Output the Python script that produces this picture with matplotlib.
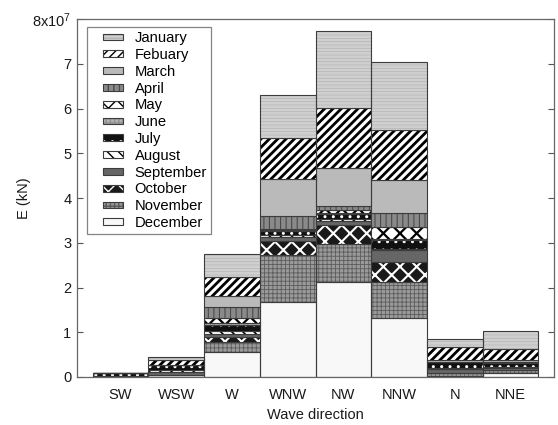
import matplotlib
matplotlib.use("Agg")
import matplotlib.pyplot as plt
import matplotlib.patches as mpatches
from matplotlib.legend_handler import HandlerTuple, HandlerPatch
import numpy as np

plt.rcParams["font.family"] = ["Liberation Sans", "DejaVu Sans"]
plt.rcParams["mathtext.fontset"] = "custom"
plt.rcParams["mathtext.rm"] = "Liberation Sans"
plt.rcParams["mathtext.it"] = "Liberation Sans"
plt.rcParams["font.size"] = 10

directions = ["SW", "WSW", "W", "WNW", "NW", "NNW", "N", "NNE"]
months = ["January", "Febuary", "March", "April", "May", "June", "July",
          "August", "September", "October", "November", "December"]

# Monthly wave energy per direction, in units of 1e7 kN
january   = [0.00, 0.06, 0.52, 0.97, 1.72, 1.52, 0.185, 0.41]
february  = [0.00, 0.12, 0.43, 0.91, 1.33, 1.12, 0.285, 0.24]
march     = [0.00, 0.00, 0.23, 0.82, 0.85, 0.73, 0.05, 0.04]
april     = [0.00, 0.00, 0.26, 0.29, 0.10, 0.32, 0.00, 0.00]
may       = [0.00, 0.00, 0.10, 0.02, 0.06, 0.26, 0.00, 0.01]
june      = [0.00, 0.00, 0.04, 0.02, 0.03, 0.02, 0.00, 0.01]
july      = [0.05, 0.12, 0.14, 0.10, 0.11, 0.22, 0.14, 0.10]
august    = [0.00, 0.03, 0.06, 0.05, 0.04, 0.02, 0.02, 0.02]
september = [0.03, 0.07, 0.08, 0.08, 0.10, 0.26, 0.10, 0.04]
october   = [0.00, 0.00, 0.10, 0.32, 0.41, 0.45, 0.00, 0.00]
november  = [0.00, 0.01, 0.23, 1.04, 0.86, 0.80, 0.05, 0.08]
december  = [0.00, 0.04, 0.56, 1.68, 2.12, 1.32, 0.03, 0.08]

series = [january, february, march, april, may, june, july, august,
          september, october, november, december]
scale = 1e7

# fill colour, hatch, hatch colour, hatch line width
styles = [
    ("#d0d0d0", "-----", "#b4b4b4", 0.5),   # January
    ("white",   "////",  "black",   2.0),   # Febuary
    ("#bababa", "",      "#bababa", 0.5),   # March
    ("#8a8a8a", "|||",   "#4a4a4a", 0.8),   # April
    ("white",   "xx",    "black",   1.6),   # May
    ("#b2b2b2", "++++",  "#909090", 0.5),   # June
    ("#111111", "..",    "white",   1.0),   # July
    ("white",   "\\\\\\", "black",  1.2),   # August
    ("#666666", "",      "#666666", 0.5),   # September
    ("#1a1a1a", "xx",    "white",   1.5),   # October
    ("#9a9a9a", "++++",  "#5c5c5c", 0.6),   # November
    ("#f8f8f8", "",      "#f8f8f8", 0.5),   # December
]
outline = "#3c3c3c"


def set_hlw(artist, lw):
    try:
        artist.set_hatch_linewidth(lw)
    except AttributeError:
        pass


def icon_rect(legend, orig_handle, xdescent, ydescent, width, height,
              fontsize):
    # small swatch pushed to the right end of the handle box
    w = width * 0.64
    h = height * 0.62
    return mpatches.Rectangle((-xdescent + width - w,
                               -ydescent + (height - h) / 2), w, h)


fig = plt.figure(figsize=(5.58, 4.25), dpi=100)
ax = fig.add_axes([77 / 558, 48 / 425, 477 / 558, 358 / 425])

x = np.arange(1, len(directions) + 1)
bottom = np.zeros(len(directions))
handles = {}
# stack from December at the bottom up to January on top
for i in range(len(months) - 1, -1, -1):
    vals = np.array(series[i]) * scale
    fc, hatch, hc, hlw = styles[i]
    bars = ax.bar(x, vals, bottom=bottom, width=1.0, color=fc,
                  edgecolor=hc, hatch=hatch or None, linewidth=0)
    for b in bars:
        set_hlw(b, hlw)
    ax.bar(x, vals, bottom=bottom, width=1.0, fill=False,
           edgecolor=outline, linewidth=0.8)
    bottom += vals
    hp = mpatches.Patch(facecolor=fc, edgecolor=hc, hatch=hatch or None,
                        linewidth=0)
    set_hlw(hp, hlw)
    op = mpatches.Patch(fill=False, edgecolor=outline, linewidth=0.8)
    handles[i] = (hp, op)

ax.set_xlim(0.22, 8.78)
ax.set_ylim(0, 8 * scale)
ax.set_xticks(x)
ax.set_xticklabels(directions)
ax.set_yticks(np.arange(0, 9) * scale)
ax.set_yticklabels([str(k) for k in range(8)] + [r"8x10$^{7}$"])
ax.tick_params(axis="x", length=0, pad=8, colors="#1a1a1a", labelsize=10.5)
ax.tick_params(axis="y", direction="in", length=4, width=0.8,
               right=True, pad=4, colors="#555555", labelcolor="#1a1a1a",
               labelsize=10.5)
for s in ax.spines.values():
    s.set_color("#666666")
    s.set_linewidth(0.9)

ax.set_xlabel("Wave direction", labelpad=4, color="#1a1a1a", fontsize=10.5)
ax.set_ylabel("E (kN)", color="#1a1a1a", fontsize=10.5)
ax.yaxis.set_label_coords((31 - 77) / 477, 0.5)

leg = ax.legend([handles[i] for i in range(len(months))], months,
                handler_map={tuple: HandlerTuple(ndivide=1, pad=0),
                             mpatches.Patch: HandlerPatch(patch_func=icon_rect)},
                loc="upper left", bbox_to_anchor=(10 / 477, 1 - 8 / 358),
                borderaxespad=0, frameon=True, fancybox=False,
                fontsize=10.6, handlelength=2.15, handleheight=0.75,
                handletextpad=0.8, labelspacing=0.19, borderpad=0.28)
leg.get_frame().set_edgecolor("#666666")
leg.get_frame().set_linewidth(0.9)

fig.savefig("out.png", dpi=100)
